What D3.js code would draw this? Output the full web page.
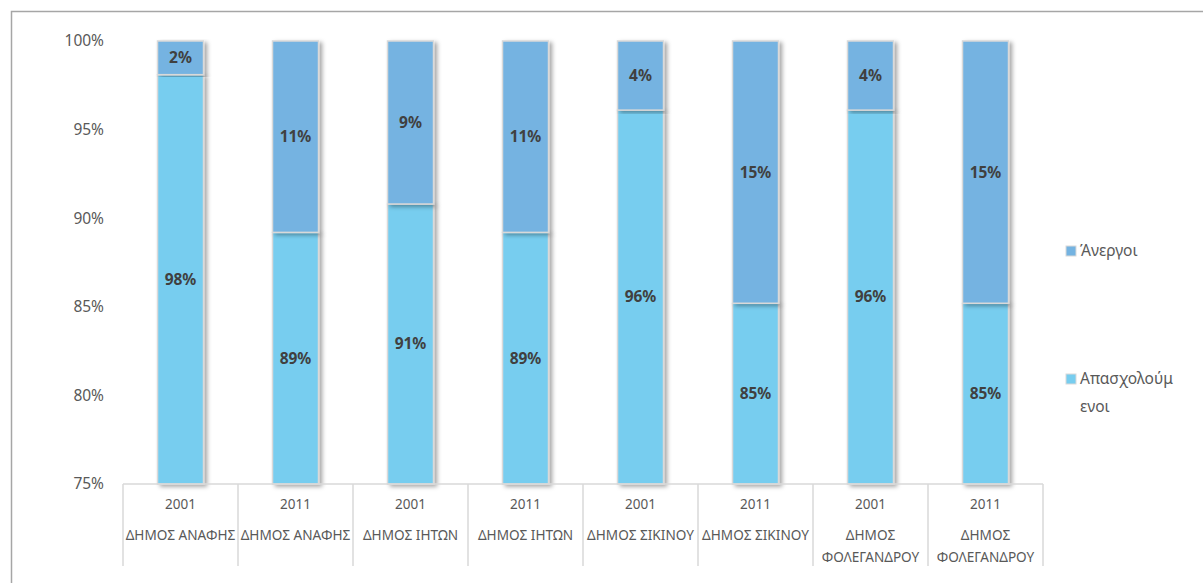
<!DOCTYPE html>
<html lang="el">
<head>
<meta charset="UTF-8" />
<title>Chart</title>
<style>
    body { margin: 0; background: #fff; }
    svg text { font-family: "Noto Sans", "Open Sans", sans-serif; }
</style>
</head>
<body>
<div id="container"></div>
<script src="https://cdnjs.cloudflare.com/ajax/libs/d3/7.8.5/d3.min.js"></script>
<script>
    // data
    const years = ['2001', '2011', '2001', '2011', '2001', '2011', '2001', '2011'];
    const places = [['ΔΗΜΟΣ ΑΝΑΦΗΣ'], ['ΔΗΜΟΣ ΑΝΑΦΗΣ'], ['ΔΗΜΟΣ ΙΗΤΩΝ'], ['ΔΗΜΟΣ ΙΗΤΩΝ'],
        ['ΔΗΜΟΣ ΣΙΚΙΝΟΥ'], ['ΔΗΜΟΣ ΣΙΚΙΝΟΥ'], ['ΔΗΜΟΣ', 'ΦΟΛΕΓΑΝΔΡΟΥ'], ['ΔΗΜΟΣ', 'ΦΟΛΕΓΑΝΔΡΟΥ']];
    const employed = [98.1, 89.2, 90.8, 89.2, 96.1, 85.2, 96.1, 85.2];
    const unemployed = [1.9, 10.8, 9.2, 10.8, 3.9, 14.8, 3.9, 14.8];
    const yTicks = [75, 80, 85, 90, 95, 100];
    const seriesNames = ['Απασχολούμενοι', 'Άνεργοι'];
    const colors = ['#77cdef', '#74b3e1'];

    const W = 1203, H = 583;
    const m = { left: 123, right: 160, top: 41, bottom: 99 };
    const svg = d3.select('#container').append('svg').attr('width', W).attr('height', H);

    // shadow for the bars
    const f = svg.append('defs').append('filter').attr('id', 'sh')
        .attr('x', '-20%').attr('y', '-5%').attr('width', '160%').attr('height', '110%');
    f.append('feDropShadow').attr('dx', 3).attr('dy', 2).attr('stdDeviation', 2)
        .attr('flood-color', '#000').attr('flood-opacity', 0.35);

    // frame (only left and top visible)
    svg.append('path').attr('d', `M11.5,${H} V11.5 H${W}`)
        .attr('fill', 'none').attr('stroke', '#a6a6a6').attr('stroke-width', 1.5);

    const idx = d3.range(years.length);
    const x = d3.scaleBand().domain(idx).range([m.left, W - m.right]).paddingInner(0).paddingOuter(0);
    const y = d3.scaleLinear().domain([75, 100]).range([H - m.bottom, m.top]);
    const bw = x.bandwidth() * 0.4;

    // y axis labels
    const yAxis = svg.append('g').attr('transform', `translate(${m.left - 16},0)`)
        .call(d3.axisLeft(y).tickValues(yTicks).tickSize(0).tickFormat(d => d + '%'));
    yAxis.select('.domain').remove();
    yAxis.selectAll('text').attr('fill', '#595959').style('font-size', '15.5px').attr('dx', 0);

    // stacked bars
    const stack = idx.map(i => {
        const e = employed[i], u = unemployed[i];
        return [
            { i, s: 0, y0: 75, y1: e, v: e },
            { i, s: 1, y0: e, y1: e + u, v: u }
        ];
    }).flat();

    const g = svg.append('g');
    g.selectAll('rect.bar').data(stack).join('rect')
        .attr('class', 'bar')
        .attr('x', d => x(d.i) + (x.bandwidth() - bw) / 2)
        .attr('width', bw)
        .attr('y', d => y(d.y1))
        .attr('height', d => y(d.y0) - y(d.y1))
        .attr('fill', d => colors[d.s])
        .attr('stroke', '#d9d9d9').attr('stroke-width', 1.5)
        .attr('filter', 'url(#sh)');

    g.selectAll('text.lbl').data(stack).join('text')
        .attr('class', 'lbl')
        .attr('x', d => x(d.i) + x.bandwidth() / 2)
        .attr('y', d => (y(d.y0) + y(d.y1)) / 2)
        .attr('dy', '0.35em')
        .attr('text-anchor', 'middle')
        .attr('fill', '#404040')
        .style('font-size', '15.5px').style('font-weight', 'bold')
        .text(d => Math.round(d.v) + '%');

    // category axis
    const base = y(75);
    const ax = svg.append('g').attr('stroke', '#d9d9d9').attr('stroke-width', 1.5);
    ax.append('line').attr('x1', m.left).attr('x2', W - m.right).attr('y1', base).attr('y2', base);
    ax.selectAll('line.div').data(d3.range(years.length + 1)).join('line')
        .attr('class', 'div')
        .attr('x1', d => m.left + d * x.bandwidth()).attr('x2', d => m.left + d * x.bandwidth())
        .attr('y1', base).attr('y2', base + 82);

    const cat = svg.append('g').selectAll('g').data(idx).join('g')
        .attr('transform', i => `translate(${x(i) + x.bandwidth() / 2},0)`);
    cat.append('text').attr('y', base + 25).attr('text-anchor', 'middle')
        .attr('fill', '#595959').style('font-size', '13.5px').text(i => years[i]);
    cat.each(function (i) {
        d3.select(this).selectAll('text.pl').data(places[i]).join('text')
            .attr('class', 'pl')
            .attr('y', (d, k) => base + 56 + k * 22)
            .attr('text-anchor', 'middle')
            .attr('fill', '#595959').style('font-size', '13.6px')
            .text(d => d);
    });

    // legend
    const leg = [
        { s: 1, y: 251, lines: ['Άνεργοι'] },
        { s: 0, y: 379, lines: ['Απασχολούμ', 'ενοι'] }
    ];
    const lg = svg.append('g').selectAll('g').data(leg).join('g');
    lg.append('rect').attr('x', 1066).attr('y', d => d.y - 5).attr('width', 10).attr('height', 10)
        .attr('fill', d => colors[d.s]).attr('stroke', '#d9d9d9').attr('stroke-width', 1);
    lg.each(function (d) {
        d3.select(this).selectAll('text').data(d.lines).join('text')
            .attr('x', 1080).attr('y', (t, k) => d.y + k * 28).attr('dy', '0.35em')
            .attr('fill', '#595959').style('font-size', '15.5px').text(t => t);
    });
</script>
</body>
</html>
